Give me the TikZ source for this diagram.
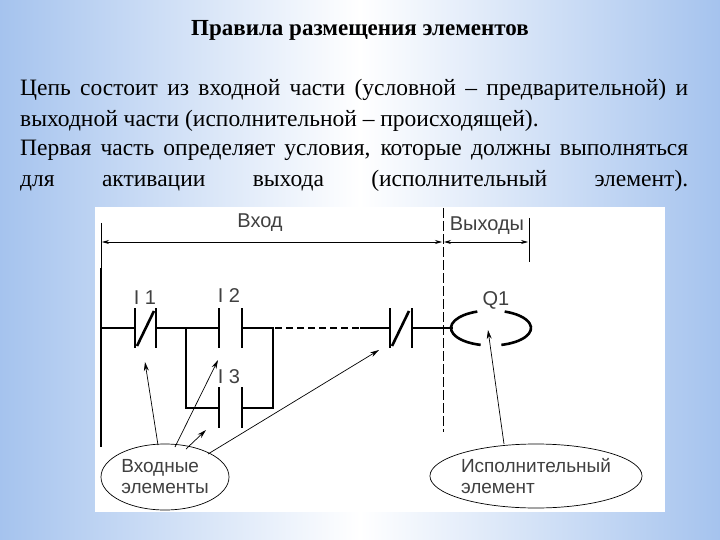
\documentclass[tikz,border=0pt]{standalone}
\usepackage{fontspec}
\setmainfont{Liberation Serif}
\newfontfamily\arialf{Liberation Sans}
\usetikzlibrary{shapes.geometric,arrows.meta}
\definecolor{edgeblue}{RGB}{165,195,238}
\begin{document}
\begin{tikzpicture}[x=1pt,y=-1pt,
  wire/.style={line width=2.6pt},
  thin/.style={line width=0.7pt},
  lbl/.style={font=\arialf\fontsize{20}{20}\selectfont, text=black!75, inner sep=0pt},
  txt/.style={font=\fontsize{23.5}{23.5}\selectfont, anchor=base west, inner sep=0pt},
  pointer/.style={thin, -{Stealth[length=9pt,width=5pt]}},
  bubble/.style={ellipse, draw, thin, align=left, font=\arialf\fontsize{19}{21}\selectfont, text=black!75, inner sep=0pt}]
\useasboundingbox (0,0) rectangle (720,540);
\shade[left color=edgeblue, right color=edgeblue, middle color=white] (0,0) rectangle (720,540);
\node[font=\bfseries\fontsize{23}{23}\selectfont, inner sep=0pt] (title) at (360,30) {Правила размещения элементов};
\node[txt] (l1) at (20,96) {\makebox[668pt][s]{Цепь состоит из входной части (условной – предварительной) и}};
\node[txt] (l2) at (20,127) {выходной части (исполнительной – происходящей).};
\node[txt] (l3) at (20,156) {\makebox[668pt][s]{Первая часть определяет условия, которые должны выполняться}};
\node[txt] (l4) at (20,187) {\makebox[668pt][s]{для активации выхода (исполнительный элемент).}};
\fill[white] (95,207) rectangle (665,512);
\coordinate (t1a) at (101,223); \coordinate (t1b) at (101,268);
\draw[thin] (t1a) -- (t1b);
\coordinate (dA) at (443,208); \coordinate (dB) at (443,432);
\draw[thin, dash pattern=on 10pt off 3pt] (dA) -- (dB);
\coordinate (t2a) at (529,218); \coordinate (t2b) at (529,262);
\draw[thin] (t2a) -- (t2b);
\coordinate (a1) at (102,242); \coordinate (a2) at (442,242); \coordinate (a3) at (444,242); \coordinate (a4) at (528,242);
\draw[thin, {Stealth[length=7pt,width=4pt]}-{Stealth[length=7pt,width=4pt]}] (a1) -- (a2);
\draw[thin, {Stealth[length=7pt,width=4pt]}-{Stealth[length=7pt,width=4pt]}] (a3) -- (a4);
\node[lbl] (vhod) at (260,223) {Вход};
\node[lbl] (vyh) at (487,226) {Выходы};
\coordinate (r1) at (101,268); \coordinate (r2) at (101,447);
\draw[wire] (r1) -- (r2);
\coordinate (p1) at (101,328); \coordinate (p2) at (135,328);
\draw[wire] (p1) -- (p2);
\draw[wire] (135,308) -- (135,348); \draw[wire] (156,308) -- (156,348);
\draw[wire] (137,346) -- (154,311);
\node[lbl] (i1) at (145,298) {I 1};
\draw[wire] (156,328) -- (219,328);
\draw[wire] (219,308) -- (219,348); \draw[wire] (242,308) -- (242,348);
\node[lbl] (i2) at (229,296) {I 2};
\draw[wire] (242,328) -- (274,328);
\draw[wire] (186,328) -- (186,408) -- (219,408);
\draw[wire] (242,408) -- (273,408) -- (273,328);
\draw[wire] (219,387) -- (219,428); \draw[wire] (242,387) -- (242,428);
\node[lbl] (i3) at (229,377) {I 3};
\draw[wire, dash pattern=on 7pt off 4pt] (275,328) -- (360,328);
\draw[wire] (360,328) -- (390,328);
\draw[wire] (390,308) -- (390,348); \draw[wire] (412,308) -- (412,348);
\draw[wire] (392,346) -- (409,311);
\draw[wire] (412,328) -- (453,328);
\node[lbl] (q1) at (496,300) {Q1};
\draw[line width=2.6pt] (491,328) ++(110:40pt and 17.5pt) arc[start angle=110,end angle=255,x radius=40pt,y radius=17.5pt];
\draw[line width=2.6pt] (491,328) ++(-75:40pt and 17.5pt) arc[start angle=-75,end angle=70,x radius=40pt,y radius=17.5pt];
\coordinate (coilc) at (488,330);
\node[bubble, minimum width=128pt, minimum height=66pt] (inb) at (165,477) {Входные\\элементы};
\node[bubble, minimum width=196pt, minimum height=64pt] (outb) at (536,476) {Исполнительный\\элемент};
\draw[pointer] (158,445) -- (145,362);
\draw[pointer] (175,447) -- (218,360);
\draw[pointer] (186,449) -- (206,430);
\draw[pointer] (208,454) -- (379,350);
\draw[pointer] (504,444) -- (coilc);
\end{tikzpicture}
\end{document}
